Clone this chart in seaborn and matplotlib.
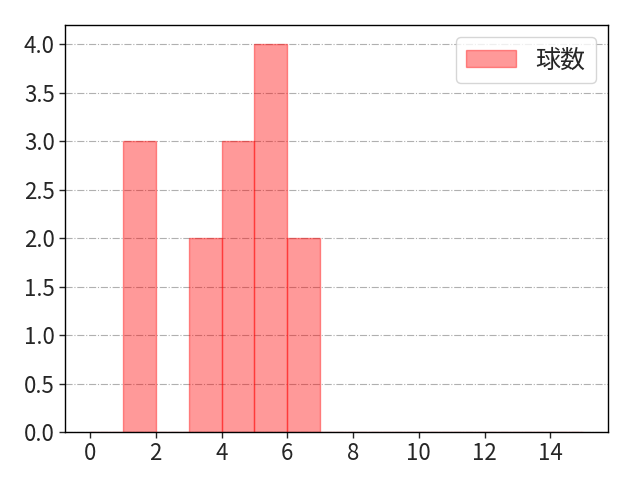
import matplotlib
matplotlib.use("Agg")
import matplotlib.pyplot as plt
import seaborn as sns

# 球数ごとの観測値 (ヒストグラムの元データ)
pitch_counts = [1, 1, 1, 3, 3, 4, 4, 4, 5, 5, 5, 5, 6, 6]
bin_edges = list(range(0, 16))

sns.set_style("white")
plt.rcParams["font.family"] = ["Noto Sans CJK JP", "DejaVu Sans"]
plt.rcParams["font.size"] = 16

fig, ax = plt.subplots(figsize=(6.4, 4.8), dpi=100)
sns.histplot(x=pitch_counts, bins=bin_edges, stat="count",
             facecolor=(1, 0, 0, 0.4), edgecolor=(1, 0, 0, 0.4), linewidth=1,
             label="球数", ax=ax)
ax.set_xlabel("")
ax.set_ylabel("")
ax.set_xticks(range(0, 15, 2))
ax.yaxis.grid(True, linestyle="-.", color="#b0b0b0", linewidth=0.8)
ax.set_axisbelow(True)
ax.tick_params(axis="both", length=4, width=1, direction="out", bottom=True, left=True)
for s in ax.spines.values():
    s.set_color("black")
    s.set_linewidth(1)
ax.legend(loc="upper right", fontsize=18)
fig.subplots_adjust(left=0.102, right=0.95, top=0.948, bottom=0.1)
plt.savefig("out.png", dpi=100)
